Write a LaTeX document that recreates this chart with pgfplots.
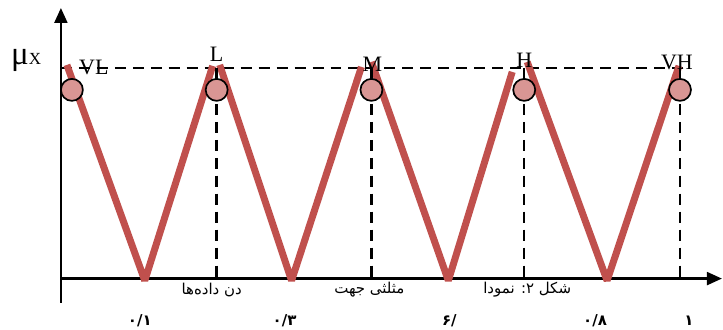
\documentclass[border=0pt]{standalone}
\usepackage{pgfplots}
\pgfplotsset{compat=1.18}
\usetikzlibrary{arrows.meta}
\usepackage{fontspec}
\setmainfont{Liberation Serif}
\newfontfamily\farsi[Script=Arabic]{DejaVu Sans}
\TeXXeTstate=1
\definecolor{cred}{HTML}{C0504D}
\definecolor{cpink}{HTML}{D99694}
\begin{document}
\begin{tikzpicture}
\begin{axis}[width=723pt, height=330pt, scale only axis,
    xmin=0, xmax=723, ymin=0, ymax=330, hide axis, clip=false]
  \path (rel axis cs:0,0) rectangle (rel axis cs:1,1);
  % axes with arrows
  \addplot[black, line width=2.2pt, -{Triangle[length=15pt,width=13pt]}] coordinates {(61,27) (61,322)};
  \addplot[black, line width=2.2pt, -{Triangle[length=15pt,width=13pt]}] coordinates {(61,51) (723,51)};
  % top dashed line
  \addplot[black, line width=2.4pt, dash pattern=on 11pt off 7pt] coordinates {(61,262) (690,262)};
  % membership triangles
  \addplot[cred, line width=7pt, line join=bevel] coordinates {(67,265) (145,49) (213,264)};
  \addplot[cred, line width=7pt, line join=bevel] coordinates {(220,265) (292,49) (362,263)};
  \addplot[cred, line width=7pt, line join=bevel] coordinates {(372,268) (449,49) (513,258)};
  \addplot[cred, line width=7pt, line join=bevel] coordinates {(528,268) (608,49) (680,264)};
  % circles
  \addplot[only marks, mark=*, mark size=11pt, mark options={fill=cpink, draw=black, line width=1.7pt}]
    coordinates {(72,240) (217,240) (372,240) (525,240) (681,240)};
  % vertical dashed lines
  \addplot[black, line width=2.4pt, dash pattern=on 11pt off 7pt] coordinates {(217,262) (217,51)};
  \addplot[black, line width=2.4pt, dash pattern=on 11pt off 7pt] coordinates {(372,262) (372,51)};
  \addplot[black, line width=2.4pt, dash pattern=on 11pt off 7pt] coordinates {(525,262) (525,51)};
  \addplot[black, line width=2.4pt, dash pattern=on 11pt off 7pt] coordinates {(681,262) (681,51)};
  % labels
  \node[anchor=base, inner sep=0pt, font=\fontsize{22}{24}\selectfont] at (axis cs:94,255) {VL};
  \node[anchor=base, inner sep=0pt, font=\fontsize{22}{24}\selectfont] at (axis cs:217,268) {L};
  \node[anchor=base, inner sep=0pt, font=\fontsize{22}{24}\selectfont] at (axis cs:373,258) {M};
  \node[anchor=base, inner sep=0pt, font=\fontsize{22}{24}\selectfont] at (axis cs:525,262) {H};
  \node[anchor=base, inner sep=0pt, font=\fontsize{22}{24}\selectfont] at (axis cs:678,260) {VH};
  \node[anchor=base west, inner sep=0pt] at (axis cs:11,265) {{\fontsize{33}{35}\selectfont μ}{\fontsize{17}{19}\selectfont X}};
  % x tick labels
  \node[inner sep=0pt, font=\farsi\bfseries\fontsize{15}{17}\selectfont] at (axis cs:140,9) {۰/۱};
  \node[inner sep=0pt, font=\farsi\bfseries\fontsize{15}{17}\selectfont] at (axis cs:285,9) {۰/۳};
  \node[inner sep=0pt, font=\farsi\bfseries\fontsize{15}{17}\selectfont] at (axis cs:450,9) {/۶};
  \node[inner sep=0pt, font=\farsi\bfseries\fontsize{15}{17}\selectfont] at (axis cs:596,9) {۰/۸};
  \node[inner sep=0pt, font=\farsi\bfseries\fontsize{15}{17}\selectfont] at (axis cs:690,9) {۱};
  % caption fragments
  \node[inner sep=0pt, font=\fontsize{15}{17}\selectfont] at (axis cs:212,40) {\farsi\beginR دن داده‌ها\endR};
  \node[inner sep=0pt, font=\fontsize{15}{17}\selectfont] at (axis cs:370,40) {\farsi\beginR مثلثی جهت\endR};
  \node[inner sep=0pt, font=\fontsize{15}{17}\selectfont] at (axis cs:528,40) {\farsi\beginR شکل ۲: نمودا\endR};
\end{axis}
\end{tikzpicture}
\end{document}
